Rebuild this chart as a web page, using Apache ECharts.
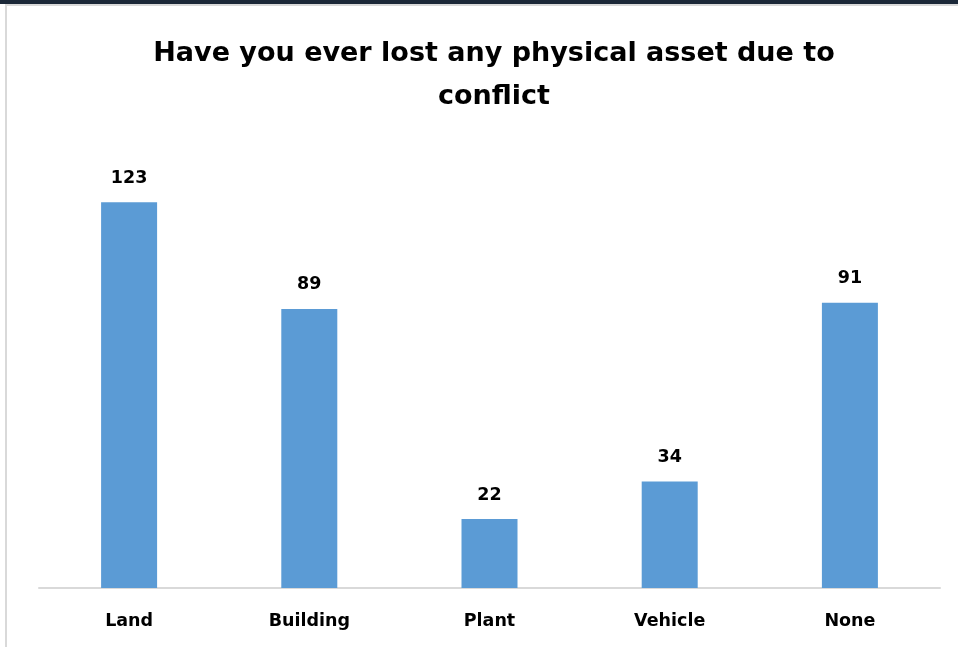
<!DOCTYPE html>
<html><head><meta charset="utf-8">
<script src="https://cdn.jsdelivr.net/npm/echarts@6/dist/echarts.min.js"></script>
<style>
html,body{margin:0;padding:0;background:#fff;}
#top{position:absolute;left:0;top:0;width:958px;height:4px;background:#1b2838;}
#frame{position:absolute;left:5px;top:4px;width:953px;height:643px;border-left:2px solid #d9d9d9;border-top:2px solid #d9d9d9;box-sizing:border-box;}
#chart{position:absolute;left:0;top:0;width:958px;height:647px;}
</style></head>
<body>
<div id="top"></div><div id="frame"></div>
<div id="chart"></div>
<script>
const categories = ["Land", "Building", "Plant", "Vehicle", "None"];
const values = [123, 89, 22, 34, 91];
const titleText = "Have you ever lost any physical asset due to\nconflict";

const chart = echarts.init(document.getElementById('chart'), null, {renderer:'canvas'});
chart.setOption({
  backgroundColor: 'transparent',
  title: {
    text: titleText,
    left: 489, textAlign: 'center', top: 27,
    textStyle: {fontFamily: 'DejaVu Sans', fontWeight: 'bold', fontSize: 27, color: '#000', lineHeight: 43}
  },
  grid: {left: 39, right: 18, top: 149, bottom: 59},
  xAxis: {
    type: 'category', data: categories,
    axisLine: {lineStyle: {color: '#d9d9d9', width: 2}},
    axisTick: {show: false},
    axisLabel: {color: '#000', fontFamily: 'DejaVu Sans', fontWeight: 'bold', fontSize: 17.5, margin: 24}
  },
  yAxis: {type: 'value', min: 0, max: 140, show: false, splitLine: {show: false}},
  series: [{
    type: 'bar', data: values, barWidth: 56,
    itemStyle: {color: '#5b9bd5'},
    label: {show: true, position: 'top', distance: 15, color: '#000', fontFamily: 'DejaVu Sans', fontWeight: 'bold', fontSize: 17.5}
  }]
});
</script>
</body></html>
